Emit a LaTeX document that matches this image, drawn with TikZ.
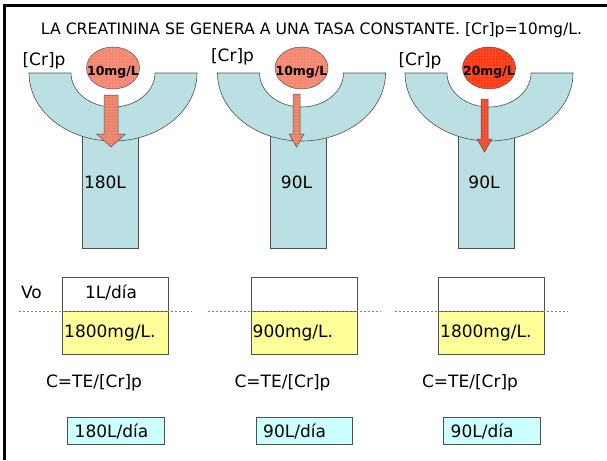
\documentclass[tikz,border=0pt]{standalone}
\usepackage{fontspec}
\setmainfont{DejaVu Sans}
\usetikzlibrary{patterns,shapes.geometric}
\definecolor{bowlc}{HTML}{BAE0E3}
\definecolor{edgec}{HTML}{505050}
\definecolor{salmonc}{HTML}{F4866F}
\definecolor{redc}{HTML}{FF3A12}
\definecolor{arrowsal}{HTML}{E98268}
\definecolor{arrowred}{HTML}{F24A28}
\definecolor{yelc}{HTML}{FFFF99}
\definecolor{cyanc}{HTML}{CCFFFF}
\begin{document}
\begin{tikzpicture}[x=1pt,y=1pt,yscale=-1,
  shapeline/.style={draw=edgec,line width=0.6pt},
  txt/.style={inner sep=0pt,font=\fontsize{17}{20}\selectfont},
  titletxt/.style={inner sep=0pt,font=\fontsize{15.7}{18}\selectfont},
  bubbletxt/.style={inner sep=0pt,font=\bfseries\fontsize{12.5}{14}\selectfont},
  guide/.style={draw=gray,line width=0.7pt,dash pattern=on 2pt off 2pt}]
\useasboundingbox (0,0) rectangle (607,460);
\fill[white] (0,0) rectangle (607,460);
\draw[line width=3pt] (4.5,460) -- (4.5,5.5) -- (607,5.5);
\node[titletxt] (title) at (311.5,30.5) {LA CREATININA SE GENERA A UNA TASA CONSTANTE. [Cr]p=10mg/L.};
\foreach \cx/\ec/\bt/\ac/\sw/\hw/\off/\top/\hb/\tip/\ly/\vol/\sx/\nm/\conc/\res/\vo in {
  113/salmonc/10mg\slash L/arrowsal/7/14.5/-2/95/134/147/61/180L/-8/a/1800mg\slash L./180L\slash día/1L\slash día,
  301.5/salmonc/10mg\slash L/arrowsal/3.5/7.5/-5/94/134/147/57/90L/-5/b/900mg\slash L./90L\slash día/,
  489/redc/20mg\slash L/arrowred/3.5/7.5/-4.5/99/139/152/61/90L/-5/c/1800mg\slash L./90L\slash día/}{
  % stem
  \filldraw[shapeline,fill=bowlc] (\cx-31,135) rectangle (\cx+25,248);
  % bowl
  \filldraw[shapeline,fill=bowlc] (\cx-84,73) -- (\cx-42,73)
     arc[start angle=180,end angle=0,x radius=42,y radius=34]
     -- (\cx+84,73) arc[start angle=0,end angle=180,x radius=84,y radius=68] -- cycle;
  \node[txt] (stem\nm) at (\cx+\sx,182) {\vol};
  \node[txt] (cr\nm) at (\cx-69,\ly) {[Cr]p};
  % arrow
  \filldraw[draw=edgec,line width=0.5pt,fill=\ac,postaction={pattern=dots,pattern color=white!60!\ac}]
     (\cx+\off-\sw,\top) -- (\cx+\off+\sw,\top) -- (\cx+\off+\sw,\hb) -- (\cx+\off+\hw,\hb)
     -- (\cx+\off,\tip) -- (\cx+\off-\hw,\hb) -- (\cx+\off-\sw,\hb) -- cycle;
  % bubble
  \node[ellipse,draw=edgec,line width=0.5pt,fill=\ec,postaction={pattern=dots,pattern color=white!70!\ec},
        minimum width=53,minimum height=42,inner sep=0pt] (bub\nm) at (\cx,68) {};
  \node[bubbletxt] (bt\nm) at (\cx,72) {\bt};
  % balance boxes
  \filldraw[shapeline,fill=white] (\cx-50.5,277) rectangle (\cx+55.5,311);
  \filldraw[shapeline,fill=yelc] (\cx-50.5,311) rectangle (\cx+55.5,354);
  \draw[guide] (\cx-94,311) -- (\cx+79,311);
  \node[txt,anchor=west] (conc\nm) at (\cx-49,333) {\conc};
  \node[txt] (vo\nm) at (\cx-2,292) {\vo};
  \node[txt] (form\nm) at (\cx-19,383) {C=TE/[Cr]p};
  \filldraw[shapeline,fill=cyanc] (\cx-45.5,417) rectangle (\cx+51,444);
  \node[txt,anchor=west] (res\nm) at (\cx-38.5,431) {\res};
}
\node[txt] (vo) at (31.5,292) {Vo};
\end{tikzpicture}
\end{document}
